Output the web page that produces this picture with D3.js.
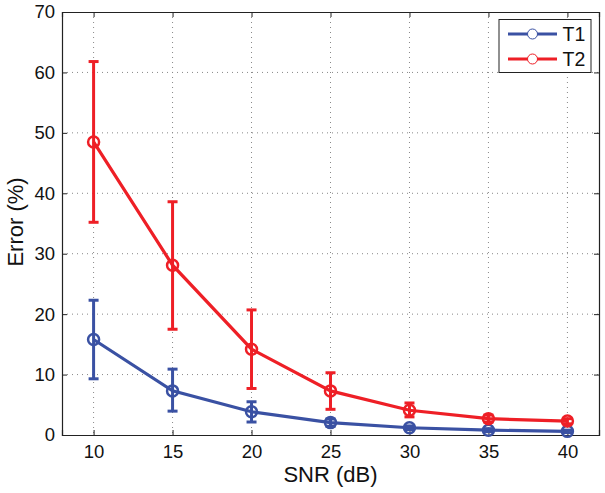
<!DOCTYPE html>
<html><head><meta charset="utf-8">
<script src="https://cdn.jsdelivr.net/npm/d3@7/dist/d3.min.js"></script>
<style>body{margin:0;background:#fff}svg{display:block}text{font-family:"Liberation Sans",Arial,sans-serif}</style>
</head><body><svg id="c" width="605" height="493"></svg>
<script>
const snr = [10, 15, 20, 25, 30, 35, 40];
const t1 = [15.8, 7.3, 3.85, 2.05, 1.2, 0.8, 0.6];
const t1Lo = [9.3, 3.95, 2.15, 1.45, 0.9, 0.55, 0.4];
const t1Hi = [22.3, 10.9, 5.5, 2.65, 1.5, 1.05, 0.8];
const t2 = [48.5, 28.1, 14.2, 7.3, 4.1, 2.7, 2.3];
const t2Lo = [35.2, 17.5, 7.7, 4.25, 3.0, 2.15, 1.85];
const t2Hi = [61.8, 38.6, 20.7, 10.3, 5.3, 3.3, 2.7];
const xTicks = [10, 15, 20, 25, 30, 35, 40];
const yTicks = [0, 10, 20, 30, 40, 50, 60, 70];
const seriesNames = ["T1", "T2"];
const colors = ["#3a51a3", "#ee1f26"];

const svg = d3.select("#c");
const L = 62, R = 599, T = 12, B = 435;
const x = d3.scaleLinear().domain([8, 42]).range([L, R]);
const y = d3.scaleLinear().domain([0, 70]).range([B, T]);

// grid
const g = svg.append("g");
g.selectAll(".gx").data(xTicks).join("line")
  .attr("x1", d => x(d)).attr("x2", d => x(d)).attr("y1", T).attr("y2", B)
  .attr("stroke", "#888").attr("stroke-width", 1).attr("stroke-dasharray", "1,4");
g.selectAll(".gy").data(yTicks.slice(1, -1)).join("line")
  .attr("y1", d => y(d)).attr("y2", d => y(d)).attr("x1", L).attr("x2", R)
  .attr("stroke", "#888").attr("stroke-width", 1).attr("stroke-dasharray", "1,4");

// axes
const ax = svg.append("g").attr("transform", `translate(0,${B})`)
  .call(d3.axisBottom(x).tickValues(xTicks).tickSize(-5).tickPadding(10));
const axT = svg.append("g").attr("transform", `translate(0,${T})`)
  .call(d3.axisTop(x).tickValues(xTicks).tickSize(-5).tickFormat(""));
const ay = svg.append("g").attr("transform", `translate(${L},0)`)
  .call(d3.axisLeft(y).tickValues(yTicks).tickSize(-5).tickPadding(7));
const ayR = svg.append("g").attr("transform", `translate(${R},0)`)
  .call(d3.axisRight(y).tickValues(yTicks).tickSize(-5).tickFormat(""));
[ax, axT, ay, ayR].forEach(a => {
  a.select(".domain").attr("stroke", "#222").attr("stroke-width", 1.2);
  a.selectAll(".tick line").attr("stroke", "#222");
  a.selectAll("text").attr("font-size", 18.5).attr("fill", "#111")
    .style("font-family", '"Liberation Sans",Arial,sans-serif');
});

// series
const data = [
  {v: t1, lo: t1Lo, hi: t1Hi},
  {v: t2, lo: t2Lo, hi: t2Hi}
];
data.forEach((s, i) => {
  const c = colors[i];
  const pts = snr.map((d, j) => ({x: d, v: s.v[j], lo: s.lo[j], hi: s.hi[j]}));
  svg.append("path").datum(pts)
    .attr("d", d3.line().x(d => x(d.x)).y(d => y(d.v)))
    .attr("fill", "none").attr("stroke", c).attr("stroke-width", 3.2);
  const eg = svg.append("g").attr("stroke", c).attr("stroke-width", 3);
  eg.selectAll(".ev").data(pts).join("line")
    .attr("x1", d => x(d.x)).attr("x2", d => x(d.x))
    .attr("y1", d => y(d.lo)).attr("y2", d => y(d.hi));
  eg.selectAll(".et").data(pts).join("line")
    .attr("x1", d => x(d.x) - 5).attr("x2", d => x(d.x) + 5)
    .attr("y1", d => y(d.hi)).attr("y2", d => y(d.hi));
  eg.selectAll(".eb").data(pts).join("line")
    .attr("x1", d => x(d.x) - 5).attr("x2", d => x(d.x) + 5)
    .attr("y1", d => y(d.lo)).attr("y2", d => y(d.lo));
  svg.append("g").selectAll("circle").data(pts).join("circle")
    .attr("cx", d => x(d.x)).attr("cy", d => y(d.v)).attr("r", 5.5)
    .attr("fill", "none").attr("stroke", c).attr("stroke-width", 2.5);
});

// legend
const lg = svg.append("g");
lg.append("rect").attr("x", 499).attr("y", 19.5).attr("width", 92).attr("height", 53)
  .attr("fill", "#fff").attr("stroke", "#222").attr("stroke-width", 1);
seriesNames.forEach((n, i) => {
  const yy = 34 + i * 25;
  lg.append("line").attr("x1", 508).attr("x2", 557).attr("y1", yy).attr("y2", yy)
    .attr("stroke", colors[i]).attr("stroke-width", 3.2);
  lg.append("circle").attr("cx", 532.5).attr("cy", yy).attr("r", 5)
    .attr("fill", "#fff").attr("stroke", colors[i]).attr("stroke-width", 1);
  lg.append("text").attr("x", 562.5).attr("y", yy + 7).attr("font-size", 19.5).attr("fill", "#111").text(n);
});

// axis labels
svg.append("text").attr("x", 330.5).attr("y", 482).attr("text-anchor", "middle")
  .attr("font-size", 22).attr("fill", "#111").text("SNR (dB)");
svg.append("text").attr("transform", `translate(23,222) rotate(-90)`)
  .attr("text-anchor", "middle").attr("font-size", 22).attr("fill", "#111").text("Error (%)");
</script></body></html>
